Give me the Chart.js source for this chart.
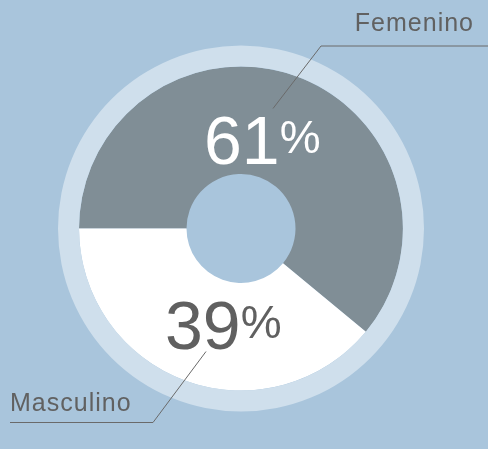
<!DOCTYPE html>
<html>
<head>
<meta charset="utf-8">
<script src="https://cdn.jsdelivr.net/npm/chart.js@4/dist/chart.umd.min.js"></script>
<style>
  html, body { margin: 0; padding: 0; background: #a9c5dc; }
  #wrap { position: relative; width: 488px; height: 449px; }
</style>
</head>
<body>
<div id="wrap"><canvas id="c" width="488" height="449"></canvas></div>
<script>
const categories = ['Femenino', 'Masculino'];
const values = [61, 39];
const sliceColors = ['#808e96', '#ffffff'];
const pctColors = ['#ffffff', '#606060'];

// annotation layout (offsets relative to donut centre, px)
const pctOffsets = [{dx: -37, dy: -65}, {dx: -76, dy: 120}];
const leaders = [
  {label: {dx: 233, dy: -198, align: 'right'}, elbow: {dx: 80, dy: -182.5}, tip: {dx: 32, dy: -120}, lineEnd: {dx: 247}},
  {label: {dx: -231, dy: 182, align: 'left'}, elbow: {dx: -88, dy: 194}, tip: {dx: -35, dy: 123}, lineEnd: {dx: -231}}
];

const annot = {
  id: 'annot',
  afterDraw(chart) {
    const ctx = chart.ctx;
    const meta = chart.getDatasetMeta(1);
    const a0 = meta.data[0];
    const cx = a0.x, cy = a0.y;
    ctx.save();
    // percentages
    values.forEach((v, i) => {
      const o = pctOffsets[i];
      ctx.fillStyle = pctColors[i];
      ctx.textBaseline = 'alphabetic';
      ctx.textAlign = 'left';
      ctx.font = '68px "Liberation Sans", Arial, sans-serif';
      const s = String(v);
      ctx.fillText(s, cx + o.dx, cy + o.dy);
      const w = ctx.measureText(s).width;
      ctx.font = '46px "Liberation Sans", Arial, sans-serif';
      ctx.fillText('%', cx + o.dx + w, cy + o.dy - 11);
    });
    // leader lines and category labels
    leaders.forEach((L, i) => {
      ctx.strokeStyle = '#6a6a6a';
      ctx.lineWidth = 1;
      ctx.beginPath();
      ctx.moveTo(cx + L.lineEnd.dx, cy + L.elbow.dy);
      ctx.lineTo(cx + L.elbow.dx, cy + L.elbow.dy);
      ctx.lineTo(cx + L.tip.dx, cy + L.tip.dy);
      ctx.stroke();
      ctx.fillStyle = '#616161';
      ctx.font = '25px "Liberation Sans", Arial, sans-serif';
      ctx.letterSpacing = '1px';
      ctx.textAlign = L.label.align;
      ctx.fillText(categories[i], cx + L.label.dx, cy + L.label.dy);
      ctx.letterSpacing = '0px';
    });
    ctx.restore();
  }
};

new Chart(document.getElementById('c'), {
  type: 'doughnut',
  data: {
    labels: categories,
    datasets: [
      { data: [1], backgroundColor: ['#cfdfec'], borderWidth: 0, weight: 21, hoverOffset: 0 },
      { data: values, backgroundColor: sliceColors, borderWidth: 0, weight: 107.5, hoverOffset: 0 }
    ]
  },
  options: {
    responsive: false,
    animation: false,
    rotation: 270,
    cutout: 54.5,
    layout: { padding: { left: 58, right: 64, top: 45.5, bottom: 37.5 } },
    plugins: { legend: { display: false }, tooltip: { enabled: false } },
    events: []
  },
  plugins: [annot]
});
</script>
</body>
</html>
